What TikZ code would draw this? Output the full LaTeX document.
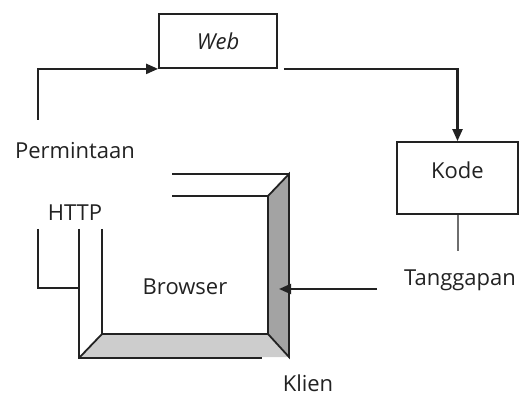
\documentclass[tikz,border=0pt]{standalone}
\usepackage{fontspec}
\setmainfont{Open Sans}
\usetikzlibrary{arrows.meta}
\definecolor{frDark}{HTML}{A3A3A3}
\definecolor{frLight}{HTML}{CDCDCD}
\definecolor{lnGray}{HTML}{6E6E6E}
\definecolor{lnDark}{HTML}{222222}

\begin{document}
\begin{tikzpicture}[
  x=0.5pt, y=-0.5pt,
  every node/.style={font=\fontsize{11}{13}\selectfont, inner sep=0pt, text=lnDark},
  procbox/.style={
    rectangle, draw=lnDark, line width=0.9pt
  },
  arrow/.style={-{Triangle[length=6pt, width=5pt]}, line width=1.1pt, lnDark},
  plain/.style={line width=1pt, lnGray},
  frame/.style={line width=0.9pt, lnDark, line join=miter}
]
 % canvas in pixel units of the reference (519 x 394)
 \useasboundingbox (0,0) rectangle (519,394);

 % Boxes
 \node[procbox, minimum width=59pt, minimum height=27pt] (web) at (218,41) {\itshape Web};
 \node[procbox, minimum width=60.5pt, minimum height=36pt, text depth=8pt] (kode) at (457.5,178) {Kode};

 % Labels
 \node (perm) at (75,151) {Permintaan};
 \node (tangg) at (460,280) {Tanggapan};
 \node (http) at (75,213) {HTTP};
 \node (browser) at (185,287) {Browser};
 \node (klien) at (308,383) {Klien};

 % Free ends
 \coordinate (permtop) at (38,120);
 \coordinate (kodeend) at (457.5,251);
 \coordinate (tangstart) at (377,289);
 \coordinate (tangend) at (279,289);

 % Request / response flow
 \draw[arrow] (permtop) |- (web.south west);
 \draw[arrow] ([xshift=3pt]web.south east) -| (kode.north);
 \draw[plain] (kode.south) -- (kodeend);

 % Browser frame (client window)
 \fill[frLight] (79,358) -- (289,357) -- (268,334) -- (102,334) -- cycle;
 \filldraw[frame, fill=frDark] (289,174) -- (289,357) -- (268,334) -- (268,196) -- cycle;
 \draw[frame] (172,174) -- (289,174);
 \draw[frame] (172,196) -- (268,196);
 \draw[frame] (102,229) -- (102,334) -- (268,334);
 \draw[frame] (79,229) -- (79,358) -- (262,358);
 \draw[frame] (79,358) -- (102,334);
 \draw[frame] (38,229) |- (79,288);

 \draw[arrow] (tangstart) -- (tangend);
\end{tikzpicture}
\end{document}
